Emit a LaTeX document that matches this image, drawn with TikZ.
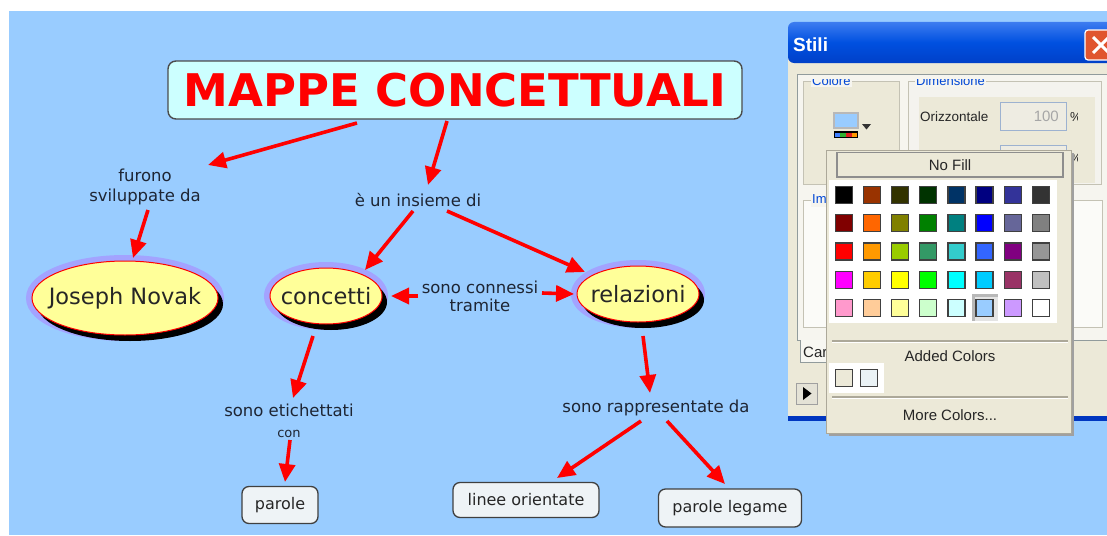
\documentclass[tikz,border=0pt]{standalone}
\usepackage{fontspec}
\setmainfont{DejaVu Sans}
\newfontfamily\dlg{Liberation Sans}
\usetikzlibrary{arrows.meta,calc,shapes.geometric}
\definecolor{bgblue}{HTML}{99CCFF}
\definecolor{yel}{HTML}{FFFF99}
\definecolor{glow}{HTML}{A3A3FF}
\definecolor{titlefill}{HTML}{CCFFFF}
\definecolor{boxfill}{HTML}{EEF3F6}
\definecolor{lbl}{HTML}{1E2533}
\definecolor{winbeige}{HTML}{ECE9D8}
\definecolor{xpA}{HTML}{3D7CF0}
\definecolor{xpB}{HTML}{0050E0}
\definecolor{xpC}{HTML}{0040C8}
\definecolor{xpedge}{HTML}{0036C0}
\definecolor{closered}{HTML}{E0552F}
\definecolor{grpblue}{HTML}{0046D5}
\definecolor{frame}{HTML}{C4C2B4}
\definecolor{tabborder}{HTML}{919B9C}
\definecolor{tabfill}{HTML}{F6F5EF}
\definecolor{dimfill}{HTML}{F4F3EE}
\definecolor{inborder}{HTML}{9DB2D0}
\definecolor{infill}{HTML}{EEECE2}
\definecolor{imgfill}{HTML}{FBFBF8}
\definecolor{tabcfill}{HTML}{F7F7F2}
\definecolor{btnborder}{HTML}{A0A0A0}
\definecolor{btnfill}{HTML}{E4E2D6}
\definecolor{popshadow}{HTML}{A0A0A0}
\definecolor{popborder}{HTML}{ACA899}
\definecolor{nfborder}{HTML}{8E8E8E}
\definecolor{selA}{HTML}{B8B8B8}
\definecolor{selB}{HTML}{E4E4E4}
\definecolor{addedtwo}{HTML}{EAF2F5}
\definecolor{iconborder}{HTML}{B8B8B8}
\definecolor{stripA}{HTML}{4080FF}
\definecolor{stripB}{HTML}{30B030}
\definecolor{stripC}{HTML}{E02020}
\definecolor{stripD}{HTML}{FF9900}
\newcommand{\zw}[1]{\makebox[0pt]{#1}}
\tikzset{
  arr/.style={draw=red, line width=3.6pt, -{Triangle[length=18pt,width=16pt]}},
  concept/.style={ellipse, fill=yel, draw=red, line width=1pt, inner sep=0pt,
    font=\fontsize{22.5}{26}\selectfont, text=black!85,
    preaction={draw=glow, line width=12pt},
    preaction={fill=black, transform canvas={shift={(5pt,-6pt)}}}},
  linkph/.style={align=center, text=lbl, font=\fontsize{16.5}{20}\selectfont, inner sep=1pt},
  leaf/.style={rectangle, rounded corners=7pt, draw=black!75, line width=1.3pt, fill=boxfill,
    text=black!85, font=\fontsize{16}{18}\selectfont, inner sep=0pt},
  dtext/.style={font=\dlg\fontsize{15}{17}\selectfont, text=black!85, inner sep=0pt},
  grplabel/.style={font=\dlg\fontsize{13}{15}\selectfont, text=grpblue, inner sep=1pt},
}
\begin{document}
\begin{tikzpicture}[x=1pt,y=-1pt]
\useasboundingbox (0,0) rectangle (1107,535);
\clip (0,0) rectangle (1107,535);
\fill[white] (0,0) rectangle (1107,535);
\fill[bgblue] (9,11) rectangle (1107,535);

% ---------------- concept map ----------------
\node[rectangle, rounded corners=8pt, draw=black!70, line width=1.4pt, fill=titlefill,
      minimum width=574pt, minimum height=58pt, text=red,
      font=\bfseries\fontsize{45}{50}\selectfont] (title) at (455,90) {MAPPE CONCETTUALI};

\node[linkph] (l1) at (145,187) {furono\\sviluppate da};
\node[linkph] (l2) at (418,200) {è un insieme di};
\node[linkph, font=\fontsize{16.5}{18}\selectfont] (l3) at (480,296) {sono connessi\\tramite};
\node[linkph, font=\fontsize{16.5}{21}\selectfont] (l4) at (289,421) {sono etichettati\\{\fontsize{13}{14}\selectfont con}};
\node[linkph] (l5) at (656,408) {sono rappresentate da};

\node[concept, minimum width=186pt, minimum height=74pt] (novak) at (125,298) {\zw{Joseph Novak}};
\node[concept, minimum width=112pt, minimum height=56pt] (concetti) at (326,296) {\zw{concetti}};
\node[concept, minimum width=122pt, minimum height=56pt] (relazioni) at (638,294) {\zw{relazioni}};

\node[leaf, minimum width=76pt, minimum height=37pt] (parole) at (280,505) {parole};
\node[leaf, minimum width=146pt, minimum height=35pt] (linee) at (526,500) {linee orientate};
\node[leaf, minimum width=143pt, minimum height=38pt] (legame) at (730,508) {parole legame};

\draw[arr] ($(title.center)+(-98,33)$) -- ($(l1.center)+(63,-22)$);
\draw[arr] ($(title.center)+(-8,31)$) -- ($(l2.center)+(10,-15)$);
\draw[arr] ($(l1.center)+(3,23)$) -- ($(novak.center)+(8,-40)$);
\draw[arr] ($(l2.center)+(-5,11)$) -- ($(concetti.center)+(39,-26)$);
\draw[arr] ($(l2.center)+(29,11)$) -- ($(relazioni.center)+(-53,-22)$);
\draw[arr] ($(l3.center)+(-62,0)$) -- ($(concetti.center)+(65,0)$);
\draw[arr] ($(l3.center)+(62,-3)$) -- ($(relazioni.center)+(-64,0)$);
\draw[arr] ($(concetti.center)+(-13,40)$) -- ($(l4.center)+(4,-23)$);
\draw[arr] ($(l4.center)+(1,19)$) -- ($(parole.center)+(5,-23)$);
\draw[arr] ($(relazioni.center)+(5,42)$) -- ($(l5.center)+(-6,-15)$);
\draw[arr] ($(l5.center)+(-15,13)$) -- ($(linee.center)+(31,-22)$);
\draw[arr] ($(l5.center)+(11,13)$) -- ($(legame.center)+(-5,-24)$);

% ---------------- dialog window "Stili" ----------------
\fill[winbeige] (788,58) rectangle (1107,418);
\fill[xpedge] (788,416) rectangle (1107,421);
\shade[top color=xpA, bottom color=xpC, middle color=xpB, rounded corners=6pt] (788,22) rectangle (1120,63);
\node[anchor=west, text=white, font=\dlg\bfseries\fontsize{19}{21}\selectfont, inner sep=0pt] (stili) at (793,45) {Stili};
\draw[white, line width=1.2pt, fill=closered, rounded corners=3pt] (1085,30) rectangle (1118,60);
\draw[white, line width=3pt] (1093,37) -- (1109,53) (1093,53) -- (1109,37);

% tab page
\draw[tabborder, fill=tabfill] (797,74) rectangle (1112,340);
% Colore group
\draw[frame, line width=1pt, fill=winbeige] (803,81) rectangle (899,184);
% Dimensione group
\draw[frame, line width=1pt, fill=dimfill] (908,81) rectangle (1101,184);
\fill[winbeige] (919,97) rectangle (1095,183);
\begin{scope}
  \clip (790,79) rectangle (1107,100);
  \node[grplabel, fill=tabfill, anchor=west] (gcol) at (811,81) {Colore};
  \node[grplabel, fill=tabfill, anchor=west] (gdim) at (915,81) {Dimensione};
\end{scope}
\node[dtext, anchor=west, font=\dlg\fontsize{13.5}{15}\selectfont] (oriz) at (920,117) {Orizzontale};
\draw[inborder, fill=infill, line width=1pt] (1000,102) rectangle (1066,130);
\node[dtext, anchor=east, text=black!35] (cento) at (1059,116) {100};
\draw[inborder, fill=infill, line width=1pt] (1000,145) rectangle (1066,173);
\begin{scope}
  \clip (1068,90) rectangle (1077,180);
  \node[dtext, anchor=west, font=\dlg\fontsize{13}{15}\selectfont] (pc1) at (1070,117) {\%};
  \node[dtext, anchor=west, font=\dlg\fontsize{13}{15}\selectfont] (pc2) at (1070,158) {\%};
\end{scope}
% colour button
\draw[iconborder, fill=bgblue, line width=1.5pt] (834,113) rectangle (858,128);
\fill[black] (834,131) rectangle (858,138);
\fill[stripA] (835,132.5) rectangle (840,136.5);
\fill[stripB] (840,132.5) rectangle (846,136.5);
\fill[stripC] (846,132.5) rectangle (852,136.5);
\fill[stripD] (852,132.5) rectangle (857,136.5);
\fill[black!80] (862,124) -- (871,124) -- (866.5,129.5) -- cycle;
% Immagine group
\draw[frame, line width=1pt, fill=imgfill] (803,200) rectangle (1102,327);
\node[grplabel, fill=tabfill, anchor=west] (gimm) at (811,200) {Immagine};
% tab and play button
\draw[tabborder, fill=tabcfill] (800,340) -- (800,362) -- (860,362) -- (860,340);
\node[dtext, anchor=west] (tabc) at (803,352) {Carattere};
\draw[btnborder, fill=btnfill] (796,383) rectangle (817,404);
\fill[black] (803,387) -- (811.5,393.5) -- (803,400) -- cycle;

% ---------------- colour popup ----------------
\fill[popshadow] (829,153) rectangle (1074,436);
\draw[popborder, fill=winbeige, line width=1pt] (826,150) rectangle (1071,433);
\draw[nfborder, line width=1.6pt, fill=winbeige] (837,152.5) rectangle (1063,177);
\node[dtext] (nofill) at (950,165) {No Fill};
\fill[white] (829,180) rectangle (1057,323);
\fill[selA] (972,294) rectangle (998,321);
\fill[selB] (974.5,296.5) rectangle (998,321);
\foreach \c [count=\i from 0] in {
  000000,993300,333300,003300,003366,000080,333399,333333,
  800000,FF6600,808000,008000,008080,0000FF,666699,808080,
  FF0000,FF9900,99CC00,339966,33CCCC,3366FF,800080,969696,
  FF00FF,FFCC00,FFFF00,00FF00,00FFFF,00CCFF,993366,C0C0C0,
  FF99CC,FFCC99,FFFF99,CCFFCC,CCFFFF,99CCFF,CC99FF,FFFFFF} {
  \pgfmathtruncatemacro\col{mod(\i,8)}
  \pgfmathtruncatemacro\row{div(\i,8)}
  \definecolor{sw}{HTML}{\c}
  \draw[black!75, line width=1.2pt, fill=sw]
    ({844+28.1*\col-8.5},{195+28.2*\row-8.5}) rectangle ++(17,17);
}
\draw[popborder, line width=1.2pt] (832,341) -- (1068,341);
\draw[white, line width=1pt] (832,342.6) -- (1068,342.6);
\node[dtext] (added) at (950,356) {Added Colors};
\fill[white] (829,363) rectangle (884,393);
\draw[black!75, line width=1.2pt, fill=winbeige] (835.5,369.5) rectangle ++(17,17);
\draw[black!75, line width=1.2pt, fill=addedtwo] (860.5,369.5) rectangle ++(17,17);
\draw[popborder, line width=1.2pt] (832,397) -- (1068,397);
\draw[white, line width=1pt] (832,398.6) -- (1068,398.6);
\node[dtext] (more) at (950,415) {More Colors...};
\end{tikzpicture}
\end{document}
